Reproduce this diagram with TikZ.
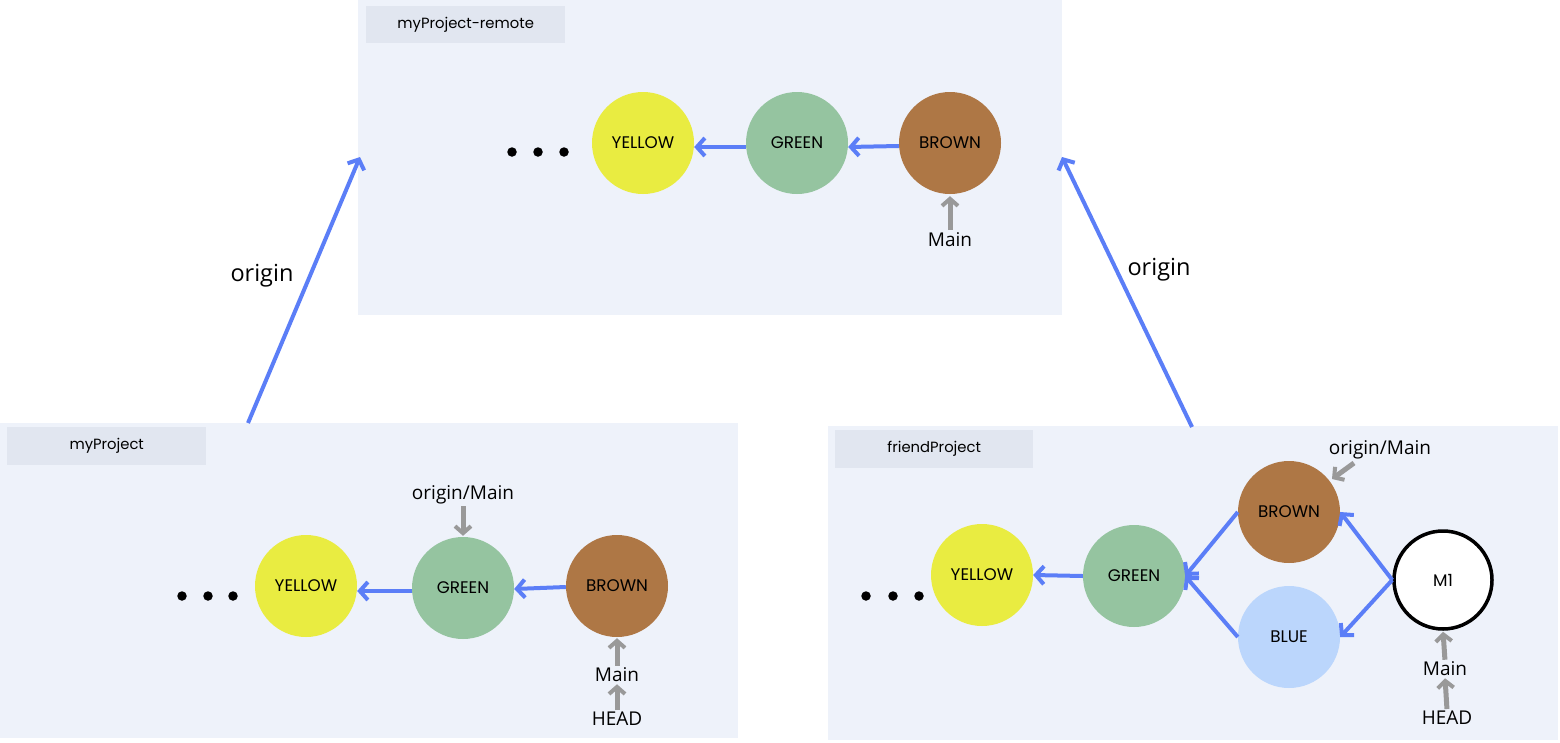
\documentclass[tikz,border=0pt]{standalone}
\usepackage{fontspec}
\setmainfont{Open Sans}
\newfontfamily\geo{Poppins}
\usetikzlibrary{arrows.meta}
\definecolor{panelbg}{HTML}{EEF2FA}
\definecolor{labelbg}{HTML}{E1E6F0}
\definecolor{cyellow}{HTML}{E9EC41}
\definecolor{cgreen}{HTML}{95C4A0}
\definecolor{cbrown}{HTML}{AE7745}
\definecolor{cblue}{HTML}{BBD6FC}
\definecolor{arrblue}{HTML}{5B7EF7}
\definecolor{arrgray}{HTML}{999999}
\tikzset{
  panel/.style={fill=panelbg, draw=none, anchor=north west, inner sep=0},
  plabel/.style={fill=labelbg, draw=none, anchor=north west, inner sep=0, font=\geo\fontsize{14.8}{17}\selectfont},
  commit/.style={circle, draw=none, minimum size=102pt, inner sep=0, font=\geo\fontsize{16.8}{19}\selectfont},
  ref/.style={inner sep=1pt, font=\fontsize{19}{22}\selectfont},
  bigref/.style={inner sep=1pt, font=\fontsize{23.5}{27}\selectfont},
  parent/.style={draw=arrblue, line width=4pt, -{Straight Barb[length=8pt,width=18pt,line width=4pt]}},
  refarr/.style={draw=arrgray, line width=5pt, -{Straight Barb[length=7pt,width=16pt,line width=4pt]}},
  dot/.style={circle, fill=black, minimum size=9.5pt, inner sep=0}
}
\begin{document}
\begin{tikzpicture}[x=1pt,y=-1pt]
\useasboundingbox (0,0) rectangle (1560,742);
% panels
\node[panel, minimum width=704pt, minimum height=315pt] (P1) at (358,0) {};
\node[panel, minimum width=738pt, minimum height=315pt] (P2) at (0,423) {};
\node[panel, minimum width=730pt, minimum height=314pt] (P3) at (828,426) {};
\node[plabel, minimum width=199pt, minimum height=37pt] (L1) at (366,6) {myProject-remote};
\node[plabel, minimum width=199pt, minimum height=38pt] (L2) at (7,427) {myProject};
\node[plabel, minimum width=198pt, minimum height=38pt] (L3) at (835,430) {friendProject};

% top panel
\node[commit, fill=cyellow] (tY) at (643,143) {YELLOW};
\node[commit, fill=cgreen] (tG) at (797,143) {GREEN};
\node[commit, fill=cbrown] (tB) at (950,143) {BROWN};
\node[dot] (td1) at (512,152) {};
\node[dot] (td2) at (538,152) {};
\node[dot] (td3) at (564,152) {};
\node[ref] (tMain) at (950,240) {Main};
\draw[parent] ([yshift=-3pt]tB.west) -- ([yshift=-4pt]tG.east);
\draw[parent] ([yshift=-4pt]tG.west) -- ([yshift=-4pt]tY.east);
\draw[refarr, shorten >=2pt, shorten <=2pt] (tMain.north) -- (tB.south);

% bottom-left panel
\node[commit, fill=cyellow] (lY) at (306,586) {YELLOW};
\node[commit, fill=cgreen] (lG) at (463,588) {GREEN};
\node[commit, fill=cbrown] (lB) at (617,586) {BROWN};
\node[dot] (ld1) at (182,596) {};
\node[dot] (ld2) at (208,596) {};
\node[dot] (ld3) at (233,596) {};
\node[ref] (lOM) at (463,495) {origin/Main};
\node[ref] (lMain) at (617,675) {Main};
\node[ref] (lHead) at (617,719) {HEAD};
\draw[parent] ([yshift=-1pt]lB.west) -- ([yshift=-1pt]lG.east);
\draw[parent] ([yshift=-3pt]lG.west) -- ([yshift=-5pt]lY.east);
\draw[refarr, shorten >=1pt, shorten <=1pt] (lOM.south) -- (lG.north);
\draw[refarr, shorten >=1pt, shorten <=1pt] (lMain.north) -- (lB.south);
\draw[refarr, shorten >=1pt, shorten <=1pt] (lHead.north) -- (lMain.south);

% bottom-right panel
\node[commit, fill=cyellow] (rY) at (982,575) {YELLOW};
\node[commit, fill=cgreen] (rG) at (1134,576) {GREEN};
\node[commit, fill=cbrown] (rB) at (1289,512) {BROWN};
\node[commit, fill=cblue] (rBl) at (1289,637) {BLUE};
\node[commit, draw=black, line width=3.5pt, minimum size=98pt, fill=white] (rM) at (1443,580) {M1};
\node[dot] (rd1) at (866,596) {};
\node[dot] (rd2) at (893,596) {};
\node[dot] (rd3) at (919,596) {};
\node[ref] (rOM) at (1380,450) {origin/Main};
\node[ref] (rMain) at (1445,669) {Main};
\node[ref] (rHead) at (1447,718) {HEAD};
\draw[parent] (rG.west) -- (rY.east);
\draw[parent] (rB.west) -- (rG.east);
\draw[parent] (rBl.west) -- (rG.east);
\draw[parent] (rM.west) -- (rB.east);
\draw[parent] (rM.west) -- (rBl.east);
\coordinate (omS) at (1354,463);
\coordinate (omE) at (1332,479);
\draw[refarr] (omS) -- (omE);
\draw[refarr, shorten >=1pt, shorten <=1pt] (rMain.north) -- (rM.south);
\draw[refarr, shorten >=1pt, shorten <=1pt] (rHead.north) -- (rMain.south);

% remotes
\coordinate (o1s) at (248,423);
\coordinate (o1e) at (360,157);
\coordinate (o2s) at (1192,427);
\coordinate (o2e) at (1062,157);
\draw[parent] (o1s) -- (o1e);
\draw[parent] (o2s) -- (o2e);
\node[bigref] (or1) at (262,276) {origin};
\node[bigref] (or2) at (1159,270) {origin};
\end{tikzpicture}
\end{document}
